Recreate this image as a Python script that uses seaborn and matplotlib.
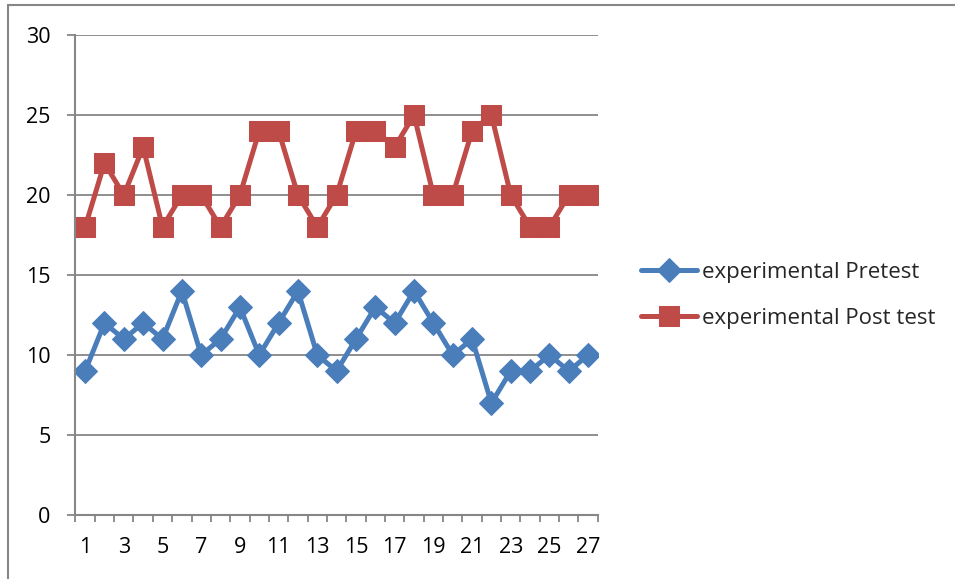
import numpy as np
import pandas as pd
import seaborn as sns
import matplotlib.pyplot as plt
from matplotlib.lines import Line2D

students = list(range(1, 28))
pretest = [9, 12, 11, 12, 11, 14, 10, 11, 13, 10, 12, 14, 10, 9, 11, 13, 12, 14, 12, 10, 11, 7, 9, 9, 10, 9, 10]
posttest = [18, 22, 20, 23, 18, 20, 20, 18, 20, 24, 24, 20, 18, 20, 24, 24, 23, 25, 20, 20, 24, 25, 20, 18, 18, 20, 20]
x_labels = [str(i) for i in range(1, 28, 2)]

df = pd.DataFrame({'student': students, 'pre': pretest, 'post': posttest})

sns.set_style('white')
plt.rcParams['font.family'] = ['Open Sans', 'DejaVu Sans']

gray = '#868686'
blue = '#4A7EBB'
red = '#BE4B48'

fig = plt.figure(figsize=(9.55, 5.79), dpi=100)
ax = fig.add_axes([0.079, 0.1105, 0.547, 0.829])

sns.lineplot(data=df, x='student', y='pre', ax=ax, color=blue, linewidth=3.6,
             marker='D', markersize=12.5, markeredgecolor=blue, label='experimental Pretest')
sns.lineplot(data=df, x='student', y='post', ax=ax, color=red, linewidth=3.6,
             marker='s', markersize=14, markeredgecolor=red, label='experimental Post test')

ax.set_xlim(0.5, 27.5)
ax.set_ylim(0, 30)
ax.set_yticks(range(0, 31, 5))
ax.set_xticks(range(1, 28, 2))
ax.set_xticklabels(x_labels)
ax.set_xticks(np.arange(0.5, 28, 1), minor=True)
ax.set_xlabel('')
ax.set_ylabel('')

ax.yaxis.grid(True, color=gray, linewidth=1.3)
ax.set_axisbelow(True)
for side in ['top', 'right']:
    ax.spines[side].set_visible(False)
for side in ['left', 'bottom']:
    ax.spines[side].set_color(gray)
    ax.spines[side].set_linewidth(1.5)

ax.tick_params(axis='y', which='major', left=True, length=6, width=1.3, color=gray,
               pad=12, labelsize=15.5, labelcolor='black')
ax.tick_params(axis='x', which='major', bottom=True, length=0, pad=16,
               labelsize=15.5, labelcolor='black')
ax.tick_params(axis='x', which='minor', bottom=True, length=5, width=1.3, color=gray)

ax.legend_.remove()
handles, labels = ax.get_legend_handles_labels()
fig.legend(handles, labels, loc='center left', bbox_to_anchor=(0.650, 0.490),
           frameon=False, fontsize=16, handlelength=2.55, handletextpad=0.2,
           labelspacing=1.15)

# outer chart border (top and left)
fig.add_artist(Line2D([0.0079, 1.0], [0.9914, 0.9914], color=gray, linewidth=1.5,
                      transform=fig.transFigure))
fig.add_artist(Line2D([0.0079, 0.0079], [0.0, 0.9914], color=gray, linewidth=1.5,
                      transform=fig.transFigure))

fig.savefig('out.png', dpi=100)
